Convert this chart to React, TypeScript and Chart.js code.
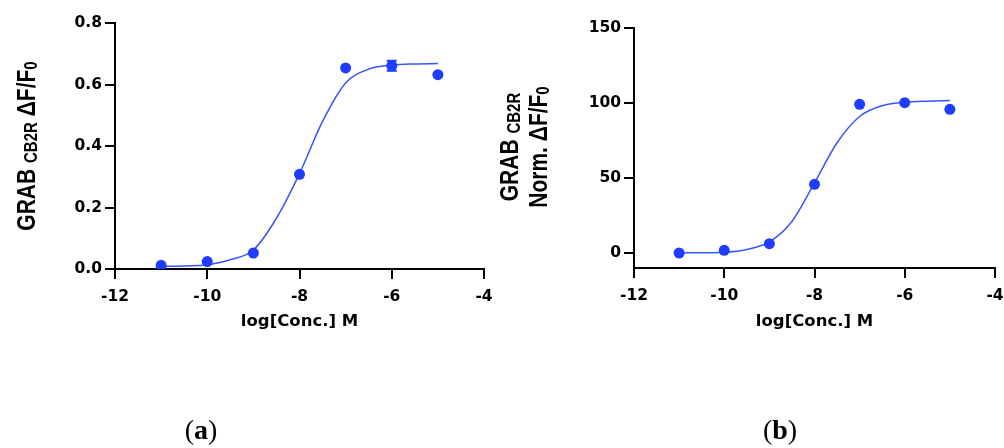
import React, { useEffect, useRef } from 'react';
import { Chart, registerables } from 'chart.js';

Chart.register(...registerables);

// ---- data ----
const logConc = [-11, -10, -9, -8, -7, -6, -5];
const responseA = [0.012, 0.024, 0.052, 0.308, 0.654, 0.661, 0.632];
const errorA = [0, 0, 0, 0, 0, 0.016, 0];
const fitX = [-11, -10.5, -10, -9.5, -9, -8.5, -8, -7.5, -7, -6.5, -6, -5.5, -5];
const fitYA = [0.008, 0.01, 0.014, 0.03, 0.062, 0.165, 0.31, 0.48, 0.605, 0.65, 0.663, 0.667, 0.668];
const responseB = [0, 1.8, 6.2, 45.8, 99.1, 100.2, 95.8];
const errorB = [0, 0, 0, 0, 0, 0, 0];
const fitYB = [0, 0.2, 0.5, 2.4, 7.4, 21, 46.7, 73.5, 91, 98.2, 100.4, 101.2, 101.6];
const xTicks = [-12, -10, -8, -6, -4];
const yTicksA = [0, 0.2, 0.4, 0.6, 0.8];
const yTickLabelsA = ['0.0', '0.2', '0.4', '0.6', '0.8'];
const yTicksB = [0, 50, 100, 150];
const yTickLabelsB = ['0', '50', '100', '150'];
const xTitle = 'log[Conc.] M';

const DOT = '#1f3cff';
const CURVE = '#3456ff';
const FONT = 'DejaVu Sans';
const TITLE_FONT = 'Liberation Sans';

type Seg = { text: string; sub?: boolean };

const richTitlePlugin = {
  id: 'richTitle',
  afterDraw(chart: any, _args: any, opts: any) {
    const ctx = chart.ctx as CanvasRenderingContext2D;
    const lines: { segs: Seg[]; baseX: number }[] = opts.lines || [];
    const size = opts.size;
    const subSize = opts.subSize;
    const cy = opts.cy;
    ctx.save();
    ctx.fillStyle = '#000';
    ctx.textBaseline = 'alphabetic';
    ctx.textAlign = 'left';
    for (const line of lines) {
      let total = 0;
      const widths: number[] = [];
      for (const s of line.segs) {
        ctx.font = `bold ${s.sub ? subSize : size}px "${TITLE_FONT}"`;
        const w = ctx.measureText(s.text).width;
        widths.push(w);
        total += w;
      }
      ctx.save();
      ctx.translate(line.baseX, cy);
      ctx.rotate(-Math.PI / 2);
      ctx.scale(1, opts.stretch);
      let x = -total / 2;
      line.segs.forEach((s, i) => {
        ctx.font = `bold ${s.sub ? subSize : size}px "${TITLE_FONT}"`;
        ctx.fillText(s.text, x, s.sub ? opts.subShift : 0);
        x += widths[i];
      });
      ctx.restore();
    }
    ctx.restore();
  },
};

const errorBarPlugin = {
  id: 'errBars',
  afterDatasetsDraw(chart: any, _args: any, opts: any) {
    const xs = chart.scales.x;
    const ys = chart.scales.y;
    const ctx = chart.ctx as CanvasRenderingContext2D;
    const vals: number[] = opts.values;
    const errs: number[] = opts.errors;
    ctx.save();
    ctx.strokeStyle = DOT;
    ctx.lineWidth = 2;
    logConc.forEach((xv, i) => {
      if (!errs[i]) return;
      const px = xs.getPixelForValue(xv);
      const y1 = ys.getPixelForValue(vals[i] + errs[i]);
      const y2 = ys.getPixelForValue(vals[i] - errs[i]);
      ctx.beginPath();
      ctx.moveTo(px, y1);
      ctx.lineTo(px, y2);
      ctx.moveTo(px - 5, y1);
      ctx.lineTo(px + 5, y1);
      ctx.moveTo(px - 5, y2);
      ctx.lineTo(px + 5, y2);
      ctx.stroke();
    });
    ctx.restore();
  },
};

function makeConfig(p: {
  values: number[];
  errors: number[];
  fitY: number[];
  yMin: number;
  yMax: number;
  yTicks: number[];
  yLabels: string[];
  yWidth: number;
  xHeight: number;
  top: number;
  right: number;
  canvasH: number;
  titleLines: { segs: Seg[]; baseX: number }[];
  titleCy: number;
}) {
  const tickFont = { family: FONT, weight: 'bold' as const, size: 15.5 };
  const gridCommon = {
    drawOnChartArea: false,
    drawTicks: true,
    tickLength: 10,
    color: '#000',
    lineWidth: 2,
  };
  return {
    type: 'scatter' as const,
    data: {
      datasets: [
        {
          type: 'line' as const,
          data: fitX.map((x, i) => ({ x, y: p.fitY[i] })),
          borderColor: CURVE,
          borderWidth: 1.5,
          pointRadius: 0,
          cubicInterpolationMode: 'monotone' as const,
          fill: false,
          order: 2,
        },
        {
          type: 'scatter' as const,
          data: logConc.map((x, i) => ({ x, y: p.values[i] })),
          backgroundColor: DOT,
          borderColor: DOT,
          borderWidth: 0,
          pointRadius: 5.5,
          order: 1,
        },
      ],
    },
    options: {
      animation: false as const,
      responsive: false,
      maintainAspectRatio: false,
      layout: { padding: { left: 0, right: p.right, top: p.top, bottom: 0 } },
      plugins: {
        legend: { display: false },
        tooltip: { enabled: false },
        richTitle: { lines: p.titleLines, cy: p.titleCy, size: 21, subSize: 15, subShift: 2, stretch: 1.2 },
        errBars: { values: p.values, errors: p.errors },
      },
      scales: {
        x: {
          type: 'linear' as const,
          min: -12,
          max: -4,
          afterBuildTicks: (s: any) => {
            s.ticks = xTicks.map((v) => ({ value: v }));
          },
          afterFit: (s: any) => {
            s.height = p.xHeight;
          },
          grid: gridCommon,
          border: { display: true, color: '#000', width: 2 },
          ticks: {
            color: '#000',
            font: tickFont,
            padding: 9,
            maxRotation: 0,
            callback: (v: any) => String(v),
          },
          title: {
            display: true,
            text: xTitle,
            color: '#000',
            font: { family: FONT, weight: 'bold' as const, size: 16.5 },
            padding: { top: 0, bottom: p.canvasH - 322 - 10 },
          },
        },
        y: {
          type: 'linear' as const,
          min: p.yMin,
          max: p.yMax,
          afterBuildTicks: (s: any) => {
            s.ticks = p.yTicks.map((v) => ({ value: v }));
          },
          afterFit: (s: any) => {
            s.width = p.yWidth;
          },
          grid: gridCommon,
          border: { display: true, color: '#000', width: 2 },
          ticks: {
            color: '#000',
            font: tickFont,
            padding: 3,
            callback: (_v: any, i: number) => p.yLabels[i],
          },
        },
      },
    },
    plugins: [richTitlePlugin, errorBarPlugin],
  };
}

const H = 448;
const WA = 520;
const WB = 530;

export default function App() {
  const refA = useRef<HTMLCanvasElement | null>(null);
  const refB = useRef<HTMLCanvasElement | null>(null);

  useEffect(() => {
    const a = new Chart(
      refA.current as HTMLCanvasElement,
      makeConfig({
        values: responseA,
        errors: errorA,
        fitY: fitYA,
        yMin: 0,
        yMax: 0.8,
        yTicks: yTicksA,
        yLabels: yTickLabelsA,
        yWidth: 115,
        xHeight: H - 269,
        top: 23,
        right: WA - 484,
        canvasH: H,
        titleLines: [
          {
            baseX: 35,
            segs: [{ text: 'GRAB ' }, { text: 'CB2R', sub: true }, { text: ' ΔF/F' }, { text: '0', sub: true }],
          },
        ],
        titleCy: 146,
      }) as any
    );
    const b = new Chart(
      refB.current as HTMLCanvasElement,
      makeConfig({
        values: responseB,
        errors: errorB,
        fitY: fitYB,
        yMin: -10,
        yMax: 150,
        yTicks: yTicksB,
        yLabels: yTickLabelsB,
        yWidth: 134,
        xHeight: H - 268,
        top: 28,
        right: WB - 495,
        canvasH: H,
        titleLines: [
          { baseX: 18, segs: [{ text: 'GRAB ' }, { text: 'CB2R', sub: true }] },
          { baseX: 47, segs: [{ text: 'Norm. ΔF/F' }, { text: '0', sub: true }] },
        ],
        titleCy: 147,
      }) as any
    );
    return () => {
      a.destroy();
      b.destroy();
    };
  }, []);

  const capStyle: React.CSSProperties = {
    position: 'absolute',
    top: 412,
    width: 80,
    textAlign: 'center',
    fontFamily: '"Liberation Serif", serif',
    fontSize: 28,
    lineHeight: '36px',
    color: '#000',
  };

  return (
    <div style={{ position: 'absolute', left: 0, top: 0, width: 1004, height: 448, background: '#fff', overflow: 'hidden' }}>
      <canvas ref={refA} width={WA} height={H} style={{ position: 'absolute', left: 0, top: 0, width: WA, height: H }} />
      <canvas ref={refB} width={WB} height={H} style={{ position: 'absolute', left: 500, top: 0, width: WB, height: H }} />
      <div style={{ ...capStyle, left: 161 }}>
        (<b>a</b>)
      </div>
      <div style={{ ...capStyle, left: 740 }}>
        (<b>b</b>)
      </div>
    </div>
  );
}
